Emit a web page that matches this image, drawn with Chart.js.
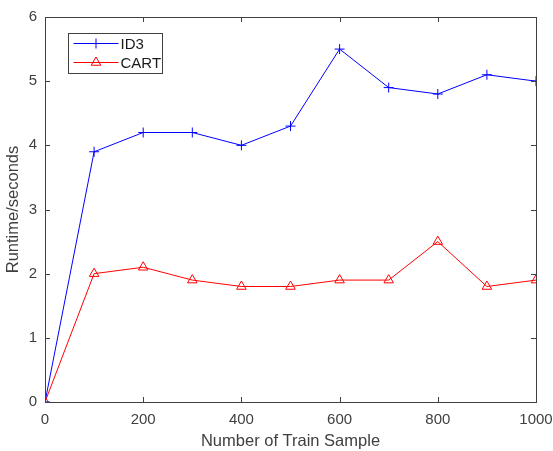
<!DOCTYPE html>
<html>
<head>
<meta charset="utf-8">
<script src="https://cdn.jsdelivr.net/npm/chart.js@4"></script>
<style>
  html, body { margin: 0; padding: 0; background: #fff; }
  #wrap { width: 553px; height: 451px; }
</style>
</head>
<body>
<div id="wrap"><canvas id="runtimeChart" width="553" height="451"></canvas></div>
<script>
const sampleSizes = [0, 100, 200, 300, 400, 500, 600, 700, 800, 900, 1000];
const id3Runtime = [0, 3.9, 4.2, 4.2, 4.0, 4.3, 5.5, 4.9, 4.8, 5.1, 5.0];
const cartRuntime = [0, 2.0, 2.1, 1.9, 1.8, 1.8, 1.9, 1.9, 2.5, 1.8, 1.9];
const xTicks = [0, 200, 400, 600, 800, 1000];
const yTicks = [0, 1, 2, 3, 4, 5, 6];

const axisColor = '#404040';
const fontFamily = '"Liberation Sans", Arial, sans-serif';

const toPoints = (ys) => ys.map((y, i) => ({ x: sampleSizes[i], y }));

// box around the plot, inward ticks on all four sides, and the legend
const matlabAxes = {
    id: 'matlabAxes',
    afterDraw(chart) {
        const { ctx, chartArea: a, scales } = chart;
        ctx.save();
        ctx.strokeStyle = axisColor;
        ctx.lineWidth = 1;
        ctx.strokeRect(Math.round(a.left) + 0.5, Math.round(a.top) + 0.5,
            Math.round(a.right - a.left), Math.round(a.bottom - a.top));
        const len = 5;
        ctx.beginPath();
        xTicks.forEach(v => {
            const px = Math.round(scales.x.getPixelForValue(v)) + 0.5;
            ctx.moveTo(px, a.bottom); ctx.lineTo(px, a.bottom - len);
            ctx.moveTo(px, a.top); ctx.lineTo(px, a.top + len);
        });
        yTicks.forEach(v => {
            const py = Math.round(scales.y.getPixelForValue(v)) + 0.5;
            ctx.moveTo(a.left, py); ctx.lineTo(a.left + len, py);
            ctx.moveTo(a.right, py); ctx.lineTo(a.right - len, py);
        });
        ctx.stroke();

        // legend
        const lx = 68.5, ly = 33.5, lw = 94, lh = 40;
        ctx.fillStyle = '#fff';
        ctx.fillRect(lx, ly, lw, lh);
        ctx.strokeStyle = axisColor;
        ctx.strokeRect(lx, ly, lw, lh);
        chart.data.datasets.forEach((ds, i) => {
            const y = ly + 10 + i * 19;
            ctx.strokeStyle = ds.borderColor;
            ctx.lineWidth = 1;
            ctx.beginPath();
            ctx.moveTo(lx + 5, y); ctx.lineTo(lx + 50, y);
            ctx.stroke();
            ctx.fillStyle = 'rgba(0,0,0,0)';
            Chart.helpers.drawPoint(ctx, {
                pointStyle: ds.pointStyle, radius: ds.pointRadius, rotation: 0,
                borderWidth: ds.pointBorderWidth
            }, lx + 27.5, y);
            ctx.fillStyle = '#1a1a1a';
            ctx.font = '15px ' + fontFamily;
            ctx.textBaseline = 'middle';
            ctx.textAlign = 'left';
            ctx.fillText(ds.label, lx + 52, y + 1);
        });
        ctx.restore();
    }
};

new Chart(document.getElementById('runtimeChart'), {
    type: 'line',
    data: {
        datasets: [
            {
                label: 'ID3',
                data: toPoints(id3Runtime),
                borderColor: '#0000ff',
                backgroundColor: 'transparent',
                pointStyle: 'cross',
                pointRadius: 5,
                pointBorderColor: '#0000ff',
                pointBorderWidth: 1,
                borderWidth: 1,
                tension: 0
            },
            {
                label: 'CART',
                data: toPoints(cartRuntime),
                borderColor: '#ff0000',
                backgroundColor: 'transparent',
                pointStyle: 'triangle',
                pointRadius: 5.5,
                pointBorderColor: '#ff0000',
                pointBackgroundColor: 'transparent',
                pointBorderWidth: 1,
                borderWidth: 1,
                tension: 0
            }
        ]
    },
    options: {
        responsive: false,
        animation: false,
        layout: { padding: { top: 15, right: 17, left: 0, bottom: 0 } },
        plugins: { legend: { display: false }, tooltip: { enabled: false } },
        scales: {
            x: {
                type: 'linear',
                min: 0, max: 1000,
                afterBuildTicks: (s) => { s.ticks = xTicks.map(v => ({ value: v })); },
                afterFit: (s) => { s.height = 49; s.paddingRight = 0; },
                grid: { display: false, drawTicks: false },
                border: { display: false },
                ticks: { color: axisColor, font: { family: fontFamily, size: 15 }, padding: 9,
                    maxRotation: 0, callback: (v) => String(v) },
                title: { display: true, text: 'Number of Train Sample', color: axisColor,
                    font: { family: fontFamily, size: 16.5 }, padding: { top: 4, bottom: 0 } }
            },
            y: {
                min: 0, max: 6,
                afterBuildTicks: (s) => { s.ticks = yTicks.map(v => ({ value: v })); },
                afterFit: (s) => { s.width = 45; },
                grid: { display: false, drawTicks: false },
                border: { display: false },
                ticks: { color: axisColor, font: { family: fontFamily, size: 15 }, padding: 8 },
                title: { display: true, text: 'Runtime/seconds', color: axisColor,
                    font: { family: fontFamily, size: 16.5 }, padding: { bottom: 2 } }
            }
        }
    },
    plugins: [matlabAxes]
});
</script>
</body>
</html>
